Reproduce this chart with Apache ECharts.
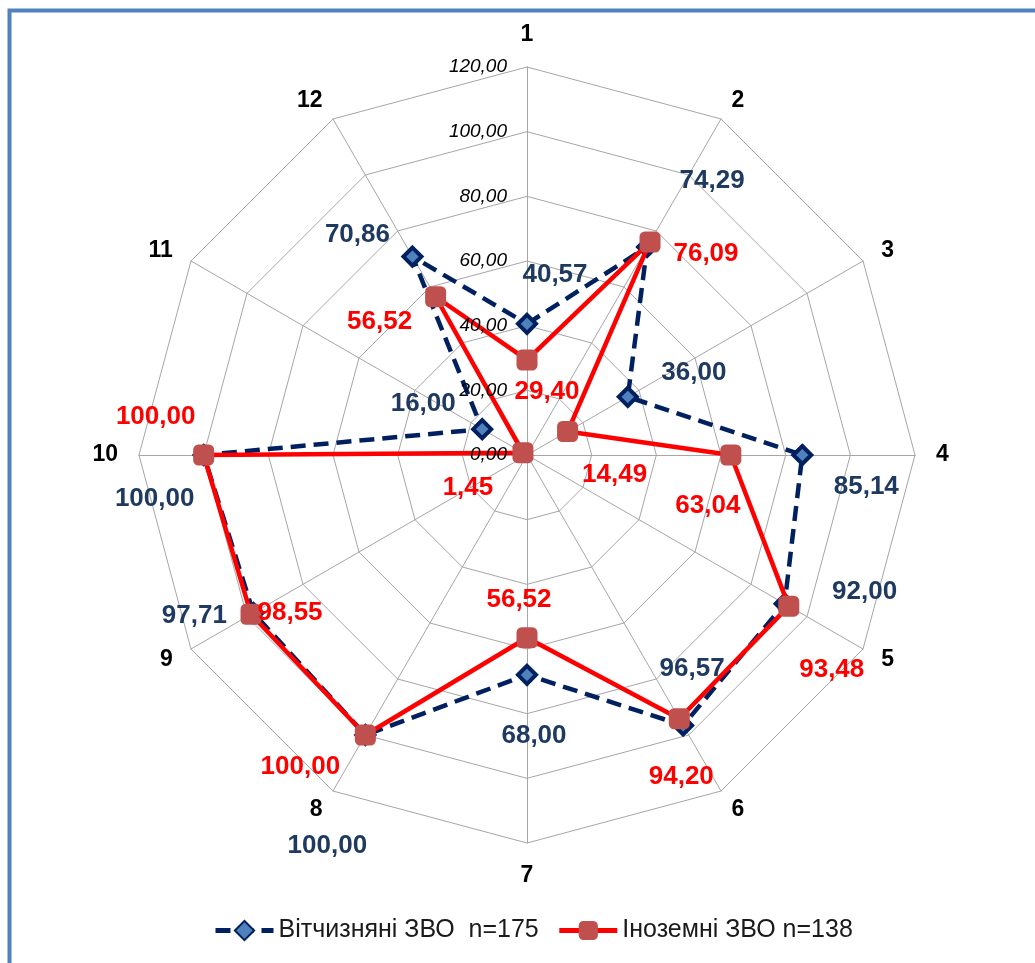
<!DOCTYPE html>
<html><head><meta charset="utf-8">
<script src="https://cdn.jsdelivr.net/npm/echarts@6/dist/echarts.min.js"></script>
<style>html,body{margin:0;padding:0;background:#fff}#c{width:1035px;height:963px}</style>
</head><body><div id="c"></div>
<script>
// ---- data ----
const categories = ['1','2','3','4','5','6','7','8','9','10','11','12'];
const domestic = [40.57, 74.29, 36.00, 85.14, 92.00, 96.57, 68.00, 100.00, 97.71, 100.00, 16.00, 70.86];
const foreign  = [29.40, 76.09, 14.49, 63.04, 93.48, 94.20, 56.52, 100.00, 98.55, 100.00, 1.45, 56.52];
const radiusTicks = [0, 20, 40, 60, 80, 100, 120];
const seriesNames = ['Вітчизняні ЗВО  n=175', 'Іноземні ЗВО n=138'];

// ---- label layout (pixel offsets of value labels from their points) ----
const domesticLabelOffset = [[28,-49],[65,-66],[66,-24],[64,32],[80,-12],[9,-57],[7,61],[-38,111],[-59,3],[-49,44],[-59,-25],[-55,-22]];
const foreignLabelOffset  = [[20,32],[56,12],[47,43],[-23,51],[43,64],[2,58],[-8,-38],[-65,32],[39,-1],[-48,-38],[-55,35],[-56,25]];

const FONT = 'Liberation Sans, Arial, sans-serif';
const fmt = v => v.toFixed(2).replace('.', ',');
const CENTER = [527, 455], R = 388;
const n = categories.length;

// radar goes counter-clockwise, so list indicators in reverse (clockwise reading)
const order = [0].concat(categories.map((c, i) => i).slice(1).reverse());
const indicator = order.map(i => ({ name: categories[i], min: radiusTicks[0], max: radiusTicks[radiusTicks.length - 1] }));

function buildData(vals, offsets) {
  const d = vals.map((v, i) => ({ value: [v, i], label: { offset: offsets[i] } }));
  d.push({ value: [vals[0], n], symbol: 'none', label: { show: false } });
  return d;
}

const chart = echarts.init(document.getElementById('c'), null, { renderer: 'canvas' });
chart.setOption({
  backgroundColor: '#fff',
  animation: false,
  graphic: [{
    type: 'rect', shape: { x: 9.5, y: 10.5, width: 2000, height: 2000 },
    style: { fill: 'none', stroke: '#4F81BD', lineWidth: 4 }, silent: true, z: 100
  }],
  radar: {
    center: CENTER, radius: R, startAngle: 90, shape: 'polygon', splitNumber: radiusTicks.length - 1,
    indicator: indicator,
    axisNameGap: 21,
    axisName: { color: '#000', fontSize: 23, fontWeight: 'bold', fontFamily: FONT },
    splitLine: { lineStyle: { color: '#A6A6A6', width: 1 } },
    splitArea: { show: false },
    axisLine: { lineStyle: { color: '#A6A6A6', width: 1 } },
    axisTick: { show: false },
    axisLabel: { show: false }
  },
  polar: { center: CENTER, radius: R },
  angleAxis: { type: 'value', min: 0, max: n, startAngle: 90, clockwise: true, show: false },
  radiusAxis: {
    type: 'value', min: radiusTicks[0], max: radiusTicks[radiusTicks.length - 1],
    interval: radiusTicks[1] - radiusTicks[0], z: 10,
    axisLine: { show: false }, axisTick: { show: false }, splitLine: { show: false },
    axisLabel: { show: true, formatter: v => fmt(v), fontStyle: 'italic', fontSize: 19, color: '#000', margin: 20, fontFamily: FONT }
  },
  legend: {
    data: seriesNames, left: 208, top: 913, itemWidth: 58, itemHeight: 24, itemGap: 18,
    lineStyle: { width: 5 },
    textStyle: { fontSize: 25, color: '#1a1a1a', fontFamily: FONT }
  },
  series: [
    {
      name: seriesNames[0], type: 'line', coordinateSystem: 'polar', z: 3,
      data: buildData(domestic, domesticLabelOffset),
      symbol: 'diamond', symbolSize: 18,
      lineStyle: { color: '#002060', width: 4.5, type: [15, 8] },
      itemStyle: { color: '#4F81BD', borderColor: '#002060', borderWidth: 4 },
      label: { show: true, position: 'inside', formatter: p => fmt(p.value[0]), fontSize: 26, fontWeight: 'bold', color: '#1F3A60', fontFamily: FONT }
    },
    {
      name: seriesNames[1], type: 'line', coordinateSystem: 'polar', z: 4,
      data: buildData(foreign, foreignLabelOffset),
      symbol: 'roundRect', symbolSize: 21,
      lineStyle: { color: '#FF0000', width: 4.5 },
      itemStyle: { color: '#C0504D', borderColor: '#C0504D', borderWidth: 0 },
      label: { show: true, position: 'inside', formatter: p => fmt(p.value[0]), fontSize: 26, fontWeight: 'bold', color: '#FF0000', fontFamily: FONT }
    }
  ]
});
</script>
</body></html>
